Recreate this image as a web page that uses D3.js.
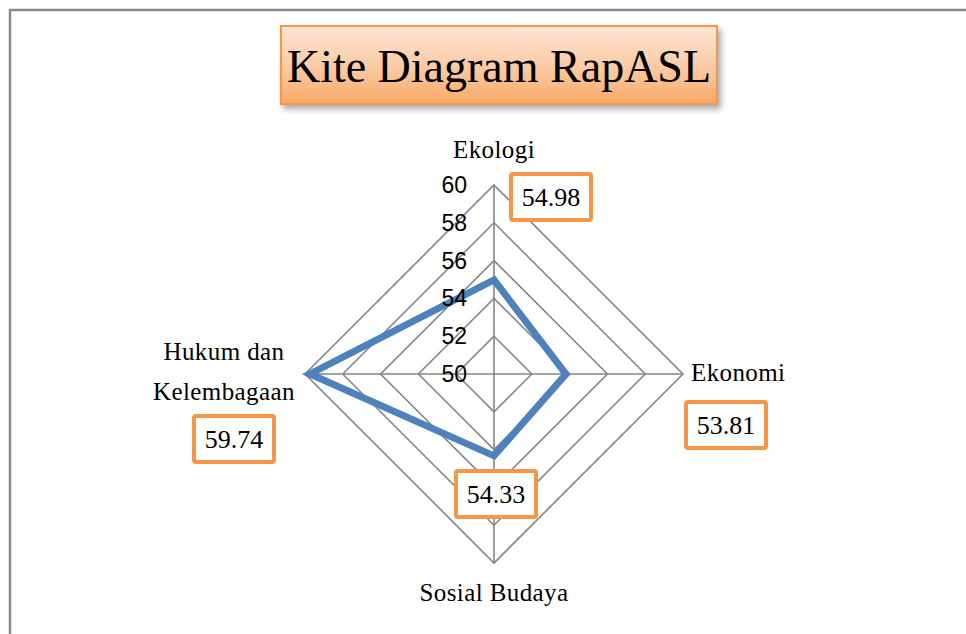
<!DOCTYPE html>
<html><head><meta charset="utf-8">
<script src="https://cdn.jsdelivr.net/npm/d3@7"></script>
<style>html,body{margin:0;padding:0;background:#fff;overflow:hidden}</style>
</head><body>
<svg id="c" width="966" height="634"></svg>
<script>
const title = "Kite Diagram RapASL";
const categories = ["Ekologi", "Ekonomi", "Sosial Budaya", "Hukum dan Kelembagaan"];
const values = [54.98, 53.81, 54.33, 59.74];
const tickValues = [50, 52, 54, 56, 58, 60];

const svg = d3.select("#c");
const cx = 494, cy = 374, R = 189;
const r = d3.scaleLinear().domain([50, 60]).range([0, R]);
const angle = i => -Math.PI/2 + i * 2*Math.PI/categories.length;
const pt = (i, v) => [cx + Math.cos(angle(i))*r(v), cy + Math.sin(angle(i))*r(v)];

// outer chart border (top and left)
svg.append("path").attr("d", "M10,634 L10,10 L966,10").attr("fill","none")
  .attr("stroke","#8c8c8c").attr("stroke-width",2.5);

// defs
const defs = svg.append("defs");
const g1 = defs.append("linearGradient").attr("id","tg").attr("x1",0).attr("y1",0).attr("x2",0).attr("y2",1);
g1.append("stop").attr("offset","0%").attr("stop-color","#fde6d6");
g1.append("stop").attr("offset","55%").attr("stop-color","#fcc9a2");
g1.append("stop").attr("offset","100%").attr("stop-color","#f9a866");
const f = defs.append("filter").attr("id","sh").attr("x","-10%").attr("y","-10%").attr("width","130%").attr("height","140%");
f.append("feDropShadow").attr("dx",3).attr("dy",4).attr("stdDeviation",3).attr("flood-color","#000").attr("flood-opacity",0.35);

// title box
svg.append("rect").attr("x",281).attr("y",26).attr("width",436).attr("height",78)
  .attr("fill","url(#tg)").attr("stroke","#f79646").attr("stroke-width",2).attr("filter","url(#sh)");
svg.append("text").attr("x",499).attr("y",82).attr("text-anchor","middle")
  .attr("font-family","Liberation Serif, serif").attr("font-size",46).attr("fill","#000").text(title);

// grid rings
const grid = svg.append("g").attr("stroke","#868686").attr("stroke-width",1.6).attr("fill","none");
tickValues.slice(1).forEach(t => {
  grid.append("path").attr("d", d3.line()(categories.map((c,i)=>pt(i,t))) + "Z");
});
categories.forEach((c,i) => {
  const p = pt(i,60);
  grid.append("line").attr("x1",cx).attr("y1",cy).attr("x2",p[0]).attr("y2",p[1]);
});

// data line
svg.append("path").attr("d", d3.line()(values.map((v,i)=>pt(i,v))) + "Z")
  .attr("fill","none").attr("stroke","#4f81bd").attr("stroke-width",7).attr("stroke-linejoin","miter");

// tick labels (drawn over the line)
svg.append("g").selectAll("text").data(tickValues).join("text")
  .attr("x", cx-27).attr("y", d => cy - r(d) + 8).attr("text-anchor","end")
  .attr("font-family","Liberation Sans, sans-serif").attr("font-size",23).attr("fill","#000")
  .text(d => d);

// category labels
const lf = "Liberation Serif, serif";
const lab = svg.append("g").attr("font-family",lf).attr("font-size",25).attr("letter-spacing",0.4).attr("fill","#000");
lab.append("text").attr("x",494).attr("y",158).attr("text-anchor","middle").text(categories[0]);
lab.append("text").attr("x",691).attr("y",381).attr("text-anchor","start").text(categories[1]);
lab.append("text").attr("x",494).attr("y",601).attr("text-anchor","middle").text(categories[2]);
const hk = categories[3].split(" ");
lab.append("text").attr("x",224).attr("y",360).attr("text-anchor","middle").text(hk.slice(0,2).join(" "));
lab.append("text").attr("x",224).attr("y",400).attr("text-anchor","middle").text(hk.slice(2).join(" "));

// value boxes
const boxes = [[551,197],[726,425],[496,494],[234,439]];
values.forEach((v,i) => {
  const [bx,by] = boxes[i];
  svg.append("rect").attr("x",bx-40).attr("y",by-23).attr("width",80).attr("height",46).attr("rx",2)
    .attr("fill","#fff").attr("stroke","#f79646").attr("stroke-width",4);
  svg.append("text").attr("x",bx).attr("y",by+9).attr("text-anchor","middle")
    .attr("font-family",lf).attr("font-size",26).attr("fill","#000").text(v.toFixed(2));
});
</script>
</body></html>
